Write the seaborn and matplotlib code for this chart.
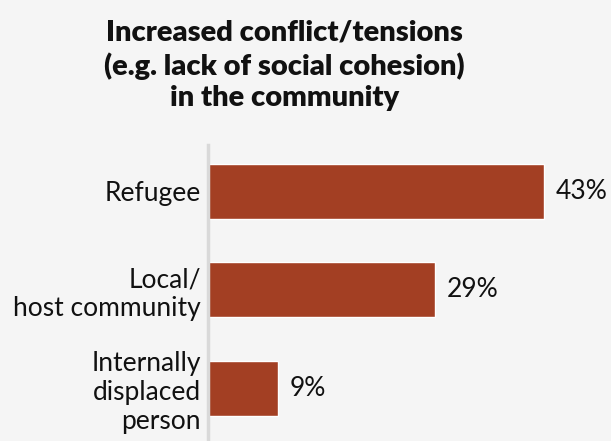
import matplotlib.pyplot as plt
import pandas as pd
import seaborn as sns

categories = ['Refugee', 'Local/\nhost community', 'Internally\ndisplaced\nperson']
values = [43, 29, 9]
value_labels = ['43%', '29%', '9%']

bg = '#f5f5f5'
bar_color = '#a33f23'

sns.set_style('white')
plt.rcParams['font.family'] = ['Lato', 'DejaVu Sans']

df = pd.DataFrame({'group': categories, 'pct': values})

fig = plt.figure(figsize=(6.11, 4.41), dpi=100, facecolor=bg)
ax = fig.add_axes([0.340, 0.0, 0.66, 0.671])
ax.set_facecolor(bg)

sns.barplot(data=df, x='pct', y='group', color=bar_color, width=0.56,
            saturation=1, ax=ax)

ax.set_xlim(0, 51.5)
ax.set_ylim(2.535, -0.47)

for i, (v, lab) in enumerate(zip(values, value_labels)):
    ax.text(v + 1.5, i, lab, va='center', ha='left', fontsize=19,
            color='#111111')

ax.set_xlabel('')
ax.set_ylabel('')
ax.set_xticks([])
ax.tick_params(axis='y', length=0, pad=5, labelsize=19, labelcolor='#111111')
for lbl in ax.get_yticklabels():
    lbl.set_multialignment('right')

for s in ['top', 'right', 'bottom']:
    ax.spines[s].set_visible(False)
ax.spines['left'].set_color('#d9d9d9')
ax.spines['left'].set_linewidth(2.5)

fig.text(0.465, 0.955, 'Increased conflict/tensions\n(e.g. lack of social cohesion)\nin the community',
         ha='center', va='top', fontsize=21, fontweight='heavy',
         color='#111111', linespacing=1.27)

fig.savefig('out.png', dpi=100, facecolor=bg)
